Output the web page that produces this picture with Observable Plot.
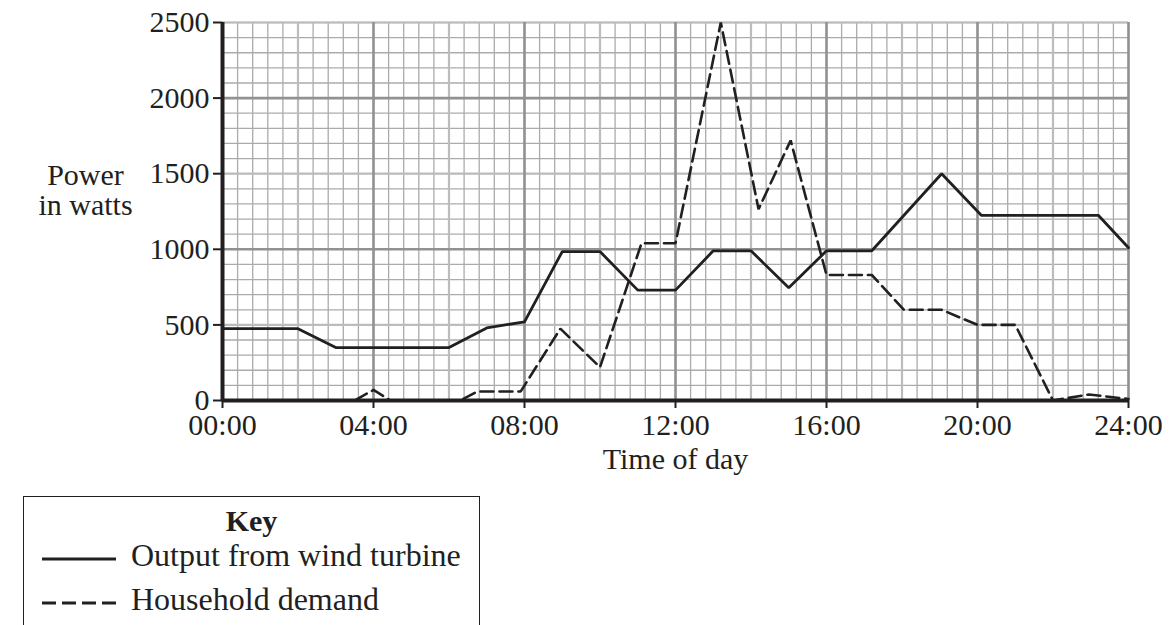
<!DOCTYPE html>
<html><head><meta charset="utf-8">
<script src="https://cdn.jsdelivr.net/npm/d3@7"></script>
<script src="https://cdn.jsdelivr.net/npm/@observablehq/plot@0.6"></script>
<style>
body{margin:0;background:#fff;font-family:"Liberation Serif","Times New Roman",serif;color:#231f20}
#wrap{position:relative;width:1171px;height:625px;overflow:hidden;background:#fff}
#key{position:absolute;left:23px;top:496px;width:457px;height:150px;border:1.5px solid #231f20;border-bottom:none;box-sizing:border-box}
#key .title{position:absolute;left:0;width:100%;top:7px;text-align:center;font-weight:bold;font-size:30px;line-height:34px}
#key .row{position:absolute;left:18px;font-size:32px;line-height:34px;white-space:nowrap}
#key .row svg{vertical-align:middle;margin-right:15px}
</style></head>
<body><div id="wrap"><div id="chart"></div><div id="key"></div></div>
<script>
// Data (hours of day, watts)
const turbineHours = [0, 2, 3, 6, 7, 8, 9, 10, 11, 12, 13, 14, 15, 16, 17.2, 19.05, 20.1, 23.2, 24];
const turbineWatts = [475, 475, 350, 350, 480, 520, 985, 985, 730, 730, 990, 990, 745, 990, 990, 1500, 1225, 1225, 1010];
const demandHours = [0, 3.5, 4, 4.45, 6.3, 6.75, 7.9, 8.95, 10, 11.1, 12, 13.2, 14.2, 15.05, 16, 17.2, 18.05, 19.05, 20, 21, 22, 22.95, 24];
const demandWatts = [0, 0, 70, 0, 0, 60, 60, 475, 220, 1040, 1040, 2500, 1265, 1720, 830, 830, 600, 600, 500, 500, 0, 40, 10];
const xTicks = [0, 4, 8, 12, 16, 20, 24];
const yTicks = [0, 500, 1000, 1500, 2000, 2500];
const seriesNames = ["Output from wind turbine", "Household demand"];

const turbine = turbineHours.map((h, i) => ({h, w: turbineWatts[i]}));
const demand = demandHours.map((h, i) => ({h, w: demandWatts[i]}));

const minorX = d3.range(0, 61).map(i => i * 0.4);
const medX = [2, 6, 10, 14, 18, 22];
const majorX = xTicks;
const minorY = d3.range(0, 26).map(i => i * 100);
const medY = [500, 1500, 2500];
const majorY = [0, 1000, 2000];

const ink = "#231f20";
const fmt = h => String(h).padStart(2, "0") + ":00";

const chart = Plot.plot({
  width: 1171,
  height: 490,
  marginLeft: 222,
  marginRight: 43,
  marginTop: 22,
  marginBottom: 90,
  style: {fontFamily: '"Liberation Serif","Times New Roman",serif', fontSize: "30px", color: ink, background: "#fff"},
  x: {domain: [0, 24]},
  y: {domain: [0, 2500]},
  marks: [
    Plot.ruleX(minorX, {stroke: "#ababab", strokeWidth: 1.3}),
    Plot.ruleY(minorY, {stroke: "#ababab", strokeWidth: 1.3}),
    Plot.ruleX(medX, {stroke: "#bcbcbc", strokeWidth: 2.2}),
    Plot.ruleY(medY, {stroke: "#bcbcbc", strokeWidth: 2.2}),
    Plot.ruleX(majorX, {stroke: "#919191", strokeWidth: 2.6}),
    Plot.ruleY(majorY, {stroke: "#919191", strokeWidth: 2.6}),
    Plot.line(demand, {x: "h", y: "w", stroke: ink, strokeWidth: 2.6, strokeDasharray: "13,6", strokeLinejoin: "miter"}),
    Plot.line(turbine, {x: "h", y: "w", stroke: ink, strokeWidth: 2.8, strokeLinejoin: "miter"}),
    Plot.ruleY([0], {stroke: ink, strokeWidth: 4}),
    Plot.ruleX([0], {stroke: ink, strokeWidth: 4}),
    Plot.axisX({ticks: xTicks, tickFormat: fmt, tickSize: 8, tickPadding: 5, strokeWidth: 2, stroke: ink, fill: ink, fontSize: 30, label: null}),
    Plot.axisY({ticks: yTicks, tickFormat: d => String(d), tickSize: 9, tickPadding: 4, strokeWidth: 2, stroke: ink, fill: ink, fontSize: 30, label: null}),
    Plot.text(["Time of day"], {frameAnchor: "bottom", dy: 68, fontSize: 30, fill: ink}),
    Plot.text(["Power\nin watts"], {frameAnchor: "left", dx: -137, dy: -21, textAnchor: "middle", fontSize: 30, fill: ink})
  ]
});
document.getElementById("chart").appendChild(chart);

const key = document.getElementById("key");
key.innerHTML = `<div class="title">Key</div>
<div class="row" style="top:41px"><svg width="74" height="10"><line x1="0" y1="5" x2="74" y2="5" stroke="${ink}" stroke-width="2.8"/></svg>${seriesNames[0]}</div>
<div class="row" style="top:85px"><svg width="74" height="10"><line x1="0" y1="5" x2="74" y2="5" stroke="${ink}" stroke-width="2.8" stroke-dasharray="14,6"/></svg>${seriesNames[1]}</div>`;
</script></body></html>
